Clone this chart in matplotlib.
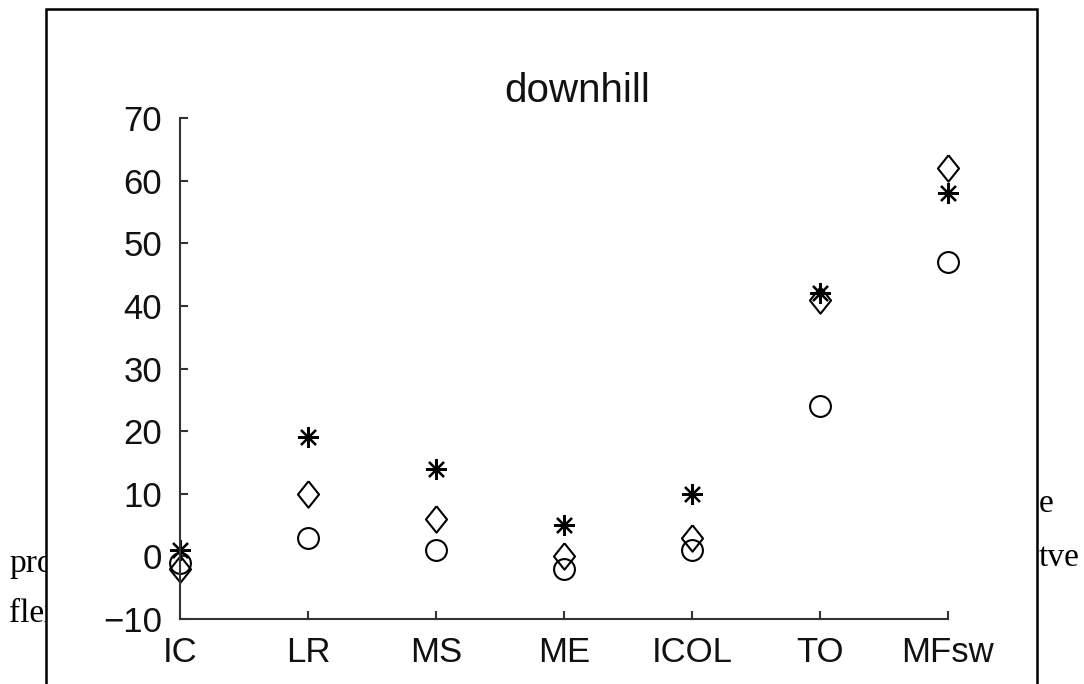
import numpy as np
import matplotlib.pyplot as plt
from matplotlib.patches import Rectangle

# gait events and the three series
events = ['IC', 'LR', 'MS', 'ME', 'ICOL', 'TO', 'MFsw']
star_vals = [1, 19, 14, 5, 10, 42, 58]
diamond_vals = [-2, 10, 6, 0, 3, 41, 62]
circle_vals = [-1, 3, 1, -2, 1, 24, 47]

W, H = 1084, 684
fig = plt.figure(figsize=(W / 100, H / 100), dpi=100)

#page text behind the figure frame
serif = 'Liberation Serif'
fig.text(9 / W, 1 - 572 / H, 'proc', fontsize=24, family=serif, zorder=0.5)
fig.text(9 / W, 1 - 622 / H, 'flex', fontsize=24, family=serif, zorder=0.5)
fig.text(1039 / W, 1 - 512 / H, 'e', fontsize=24, family=serif, zorder=0.5)
fig.text(1039 / W, 1 - 566 / H, 'tve', fontsize=24, family=serif, zorder=0.5)

#white frame that holds the chart
frame = Rectangle((46 / W, -0.1), (1037 - 46) / W, 1 - 9 / H + 0.1,
                  transform=fig.transFigure, facecolor='white',
                  edgecolor='black', linewidth=1.8, zorder=1)
fig.patches.append(frame)

ax = fig.add_axes([180 / W, 1 - 619 / H, (948 - 180) / W, (619 - 118) / H])
ax.set_zorder(2)
ax.patch.set_visible(False)

x = np.arange(1, len(events) + 1)
diamond = [(0, 1), (0.8, 0), (0, -1), (-0.8, 0), (0, 1)]
ax.plot(x, circle_vals, 'o', ms=15, mfc='none', mec='black', mew=1.5, clip_on=False)
ax.plot(x, diamond_vals, marker=diamond, ls='none', ms=19, mfc='none', mec='black',
        mew=1.5, clip_on=False)
ax.plot(x, star_vals, marker=(8, 2, 0), ls='none', ms=15, mec='black', mew=1.6,
        clip_on=False)

ax.set_xlim(1, 7)
ax.set_ylim(-10, 70)
ax.set_xticks(x)
ax.set_xticklabels(events)
ax.set_yticks(range(-10, 71, 10))
ax.set_yticklabels([str(v).replace('-', '\u2212') for v in range(-10, 71, 10)])

for s in ['top', 'right']:
    ax.spines[s].set_visible(False)
for s in ['left', 'bottom']:
    ax.spines[s].set_linewidth(1.5)
    ax.spines[s].set_color('#333333')

ax.tick_params(direction='in', length=6, width=1.5, color='#333333',
               labelsize=25, labelcolor='#111111')
ax.tick_params(axis='y', pad=13)
ax.tick_params(axis='x', pad=12)
for lab in ax.get_xticklabels() + ax.get_yticklabels():
    lab.set_family('Liberation Sans')

fig.text(577 / W, 1 - 102 / H, 'downhill', fontsize=29, family='Liberation Sans',
         ha='center', va='baseline', color='#111111', zorder=3)

fig.savefig('out.png', dpi=100)
